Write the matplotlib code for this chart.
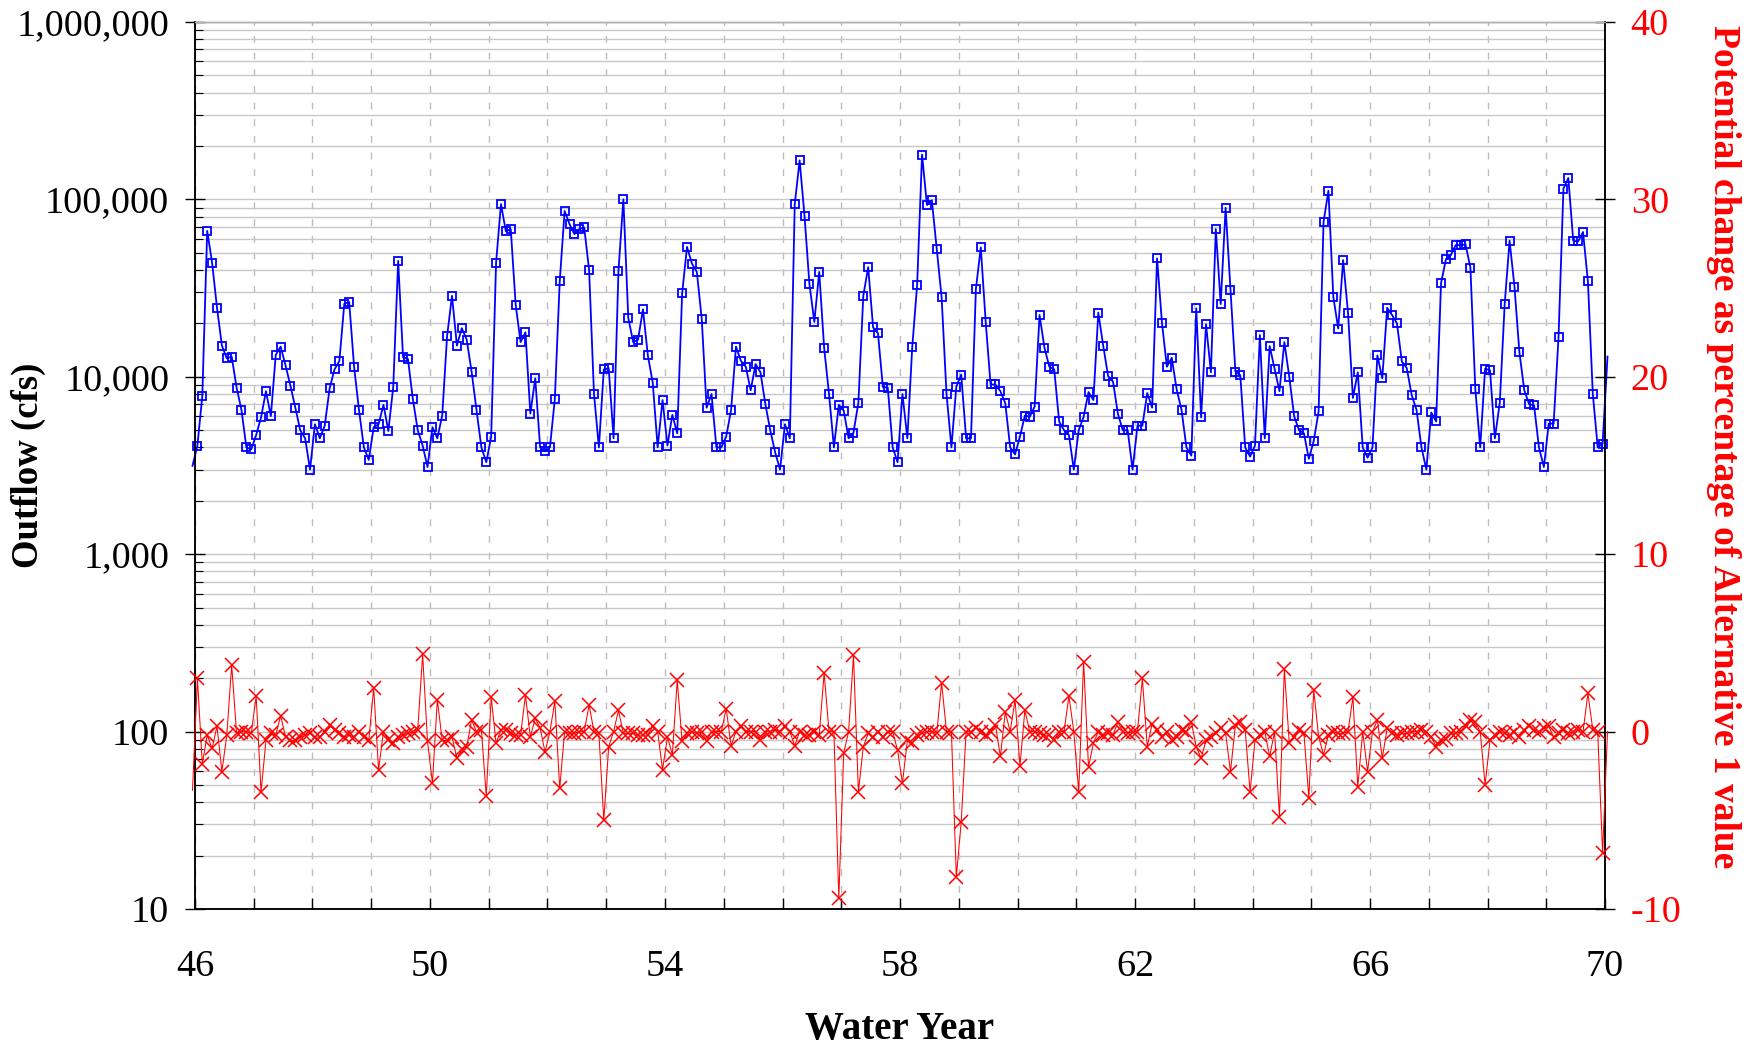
import numpy as np
import matplotlib
matplotlib.use("Agg")
import matplotlib.pyplot as plt
from matplotlib.ticker import FuncFormatter, MultipleLocator, LogLocator, NullFormatter

plt.rcParams['font.family'] = ['Liberation Serif', 'DejaVu Serif']
plt.rcParams['axes.unicode_minus'] = False

# ---- data (monthly, water years 46-70; first and last entries lie just outside the axis range) ----
start_year = 46
months_per_year = 12

outflow_cfs = [
    3150,
    4100, 7800, 66500, 44000, 24500, 15000, 12700, 13000, 8700, 6500, 4000, 3900,
    4700, 5900, 8300, 6000, 13300, 14800, 11600, 8900, 6700, 5000, 4500, 3000,
    5400, 4500, 5300, 8600, 11000, 12300, 25800, 26400, 11400, 6500, 4000, 3400,
    5200, 5400, 6950, 4950, 8800, 45000, 12900, 12600, 7500, 5000, 4100, 3100,
    5200, 4500, 6050, 17000, 28600, 15000, 18800, 16200, 10700, 6500, 4000, 3300,
    4600, 44000, 94000, 66000, 68000, 25500, 15700, 17800, 6200, 9800, 4000, 3800,
    4000, 7500, 34500, 86000, 72500, 63700, 68000, 69500, 40000, 8000, 4000, 11000,
    11200, 4500, 39700, 100000, 21500, 15700, 16200, 24000, 13200, 9250, 4000, 7400,
    4100, 6100, 4800, 29500, 54000, 43500, 39000, 21300, 6700, 8000, 4000, 4000,
    4600, 6500, 14800, 12300, 11400, 8400, 11800, 10600, 7000, 5000, 3750, 3000,
    5400, 4500, 94000, 166000, 80600, 33300, 20400, 39000, 14600, 8000, 4000, 6950,
    6450, 4500, 4850, 7150, 28600, 41500, 19000, 17600, 8750, 8700, 4000, 3300,
    8000, 4500, 14700, 33000, 179000, 93000, 98800, 52500, 28000, 8000, 4000, 8800,
    10300, 4500, 4500, 31300, 53600, 20400, 9050, 9050, 8300, 7100, 4000, 3650,
    4600, 6050, 5950, 6800, 22300, 14600, 11400, 11000, 5600, 5000, 4700, 3000,
    5000, 5950, 8200, 7400, 23000, 15000, 10100, 9400, 6200, 5000, 5000, 3000,
    5300, 5300, 8100, 6700, 46500, 20200, 11400, 12800, 8500, 6500, 4000, 3600,
    24300, 5900, 19800, 10600, 68000, 25700, 89700, 30800, 10700, 10200, 4000, 3550,
    4100, 17200, 4500, 14900, 11100, 8300, 15700, 10000, 6000, 5000, 4800, 3450,
    4350, 6400, 74500, 112000, 28200, 18700, 45500, 23000, 7600, 10600, 4000, 3500,
    4000, 13200, 9800, 24500, 22300, 20000, 12200, 11200, 7900, 6500, 4000, 3000,
    6300, 5600, 33700, 46000, 48500, 55300, 55300, 55700, 41300, 8550, 4000, 11100,
    10900, 4500, 7150, 25700, 58500, 32200, 13800, 8400, 7000, 6900, 4000, 3100,
    5450, 5450, 16800, 115000, 132000, 58500, 57900, 65500, 34500, 8000, 4000, 4200,
    13000,
]

pct_change = [
    -3.3,
    3.0, -1.8, -0.2, -0.95, 0.3, -2.25, -0.2, 3.75, -0.1, 0.0, 0.0, -0.1,
    2.0, -3.4, -0.5, -0.1, -0.2, 0.9, -0.3, -0.5, -0.5, -0.3, -0.2, -0.1,
    -0.3, -0.3, 0.0, 0.35, 0.1, -0.1, -0.3, -0.2, -0.3, 0.0, -0.3, -0.5,
    2.45, -2.15, 0.0, -0.5, -0.65, -0.3, -0.2, -0.1, 0.0, 0.1, 4.35, -0.55,
    -2.9, 1.8, -0.5, -0.5, -0.3, -1.5, -1.0, -0.85, 0.65, 0.0, 0.1, -3.65,
    1.95, -0.65, 0.1, 0.1, -0.1, -0.2, -0.2, 2.05, -0.3, 0.75, 0.2, -1.15,
    0.0, 1.7, -3.2, 0.0, -0.1, -0.1, 0.0, 0.0, 1.5, 0.0, -0.1, -5.0,
    -0.85, 0.0, 1.2, -0.1, -0.1, -0.1, -0.2, -0.2, -0.2, 0.3, 0.0, -2.15,
    -0.3, -1.3, 2.9, -0.55, -0.1, 0.0, -0.1, 0.0, -0.55, 0.0, 0.0, 0.0,
    1.3, -0.8, 0.0, 0.3, 0.0, 0.0, 0.0, -0.5, 0.0, 0.0, 0.1, 0.0,
    0.3, 0.0, -0.8, 0.0, -0.2, -0.2, 0.0, -0.2, 3.3, 0.0, 0.0, -9.4,
    -1.2, 0.0, 4.3, -3.4, -0.85, -0.1, -0.3, 0.0, -0.3, 0.0, 0.0, -1.05,
    -2.9, -0.5, -0.65, -0.2, -0.1, 0.0, 0.0, -0.1, 2.75, 0.0, 0.0, -8.2,
    -5.1, 0.0, 0.0, 0.2, 0.0, -0.2, 0.0, 0.35, -1.4, 1.1, 0.0, 1.8,
    -1.95, 1.2, 0.0, 0.0, -0.1, -0.2, -0.2, -0.5, 0.0, 0.0, 2.0, 0.0,
    -3.4, 3.95, -2.0, -0.65, 0.0, -0.2, -0.1, -0.2, 0.55, 0.0, -0.1, 0.0,
    0.0, 3.0, -0.85, 0.45, 0.1, -0.3, 0.0, -0.5, -0.3, 0.1, 0.0, 0.55,
    -0.85, -1.5, -0.5, -0.3, -0.1, 0.2, -0.1, -2.25, 0.35, 0.55, 0.1, -3.4,
    -0.5, -0.2, 0.0, -1.4, 0.0, -4.8, 3.55, -0.65, -0.3, 0.1, -0.1, -3.75,
    2.35, -0.3, -1.3, -0.2, 0.0, -0.1, -0.1, 0.0, 1.95, -3.1, 0.0, -2.25,
    0.0, 0.65, -1.5, 0.2, -0.1, -0.2, -0.1, -0.1, 0.0, 0.0, 0.1, 0.0,
    -0.3, -0.85, -0.5, -0.4, -0.1, -0.1, 0.0, 0.3, 0.65, 0.55, 0.0, -3.0,
    -0.5, -0.2, 0.0, -0.1, -0.2, 0.0, -0.3, 0.1, 0.3, 0.1, 0.0, 0.2,
    0.3, -0.3, -0.1, 0.1, -0.1, 0.0, 0.1, 0.0, 2.15, 0.1, 0.0, -6.85,
    0.0,
]

x_ticks = [46, 50, 54, 58, 62, 66, 70]
left_ticks = [10, 100, 1000, 10000, 100000, 1000000]
right_ticks = [-10, 0, 10, 20, 30, 40]

xlabel = "Water Year"
ylabel_left = "Outflow (cfs)"
ylabel_right = "Potential change as percentage of Alternative 1 value"

# month-centre positions (index -1 .. 288)
n = len(outflow_cfs)
month_index = np.arange(-1, n - 1)
water_year = start_year + (month_index + 0.5) / months_per_year

# ---- figure ----
fig = plt.figure(figsize=(17.58, 10.52), dpi=100)
ax = fig.add_axes([0.1109, 0.1359, 0.8021, 0.8432])
ax2 = ax.twinx()

FS = 27.5
ax.set_yscale('log')
ax.set_ylim(10, 1e6)
ax.set_xlim(46, 70)
ax.set_yticks(left_ticks)
ax.yaxis.set_minor_locator(LogLocator(base=10, subs=np.arange(2, 10)))
ax.yaxis.set_minor_formatter(NullFormatter())
ax.yaxis.set_major_formatter(FuncFormatter(lambda v, p: f"{v:,.0f}"))
ax.set_xticks(x_ticks)
ax.xaxis.set_minor_locator(MultipleLocator(1))

ax.grid(which='both', axis='y', color='#c8c8c8', lw=1.0, ls='-')
ax.grid(which='both', axis='x', color='#bdbdbd', lw=1.0, ls=(0, (5, 7)))
ax.set_axisbelow(True)

ax.tick_params(axis='y', which='major', direction='inout', length=14, width=1.0,
               pad=11.5, labelsize=FS, left=True, right=False)
ax.tick_params(axis='y', which='minor', direction='in', length=6, width=0.8,
               left=True, right=False)
ax.tick_params(axis='x', which='both', direction='in', length=8, width=1.0,
               pad=29, labelsize=FS, top=False)

ax2.set_ylim(-10, 40)
ax2.set_yticks(right_ticks)
ax2.tick_params(axis='y', direction='inout', length=14, width=1.0, pad=11.5,
                labelsize=FS, labelcolor='red', color='black')

for a in (ax, ax2):
    for s in a.spines.values():
        s.set_linewidth(1.1)
        s.set_color('black')
    a.spines['top'].set_color('#b0b0b0')
    a.spines['top'].set_linewidth(1.0)

# ---- series ----
inner = list(range(1, n - 1))
ax.plot(water_year, outflow_cfs, color='#0000ff', lw=1.3, marker='s', ms=6.2,
        mfc='none', mec='#0000ff', mew=1.3, markevery=inner, clip_on=False, zorder=3)
ax2.plot(water_year, pct_change, color='#ff0000', lw=0.75, marker='x', ms=10.5,
         mew=1.1, markevery=inner, clip_on=False, zorder=3)

# ---- labels ----
ax.set_xlabel(xlabel, fontsize=28, fontweight='bold', va='center')
ax.xaxis.set_label_coords(0.5, -0.1353)
ax.set_ylabel(ylabel_left, fontsize=26.5, fontweight='bold', va='center', ha='center')
ax.yaxis.set_label_coords(-0.1184, 0.5)
ax2.set_ylabel(ylabel_right, fontsize=27, fontweight='bold', color='red',
               rotation=270, va='center', ha='center')
ax2.yaxis.set_label_coords(1.084, 0.521)

fig.savefig("out.png", dpi=100)
